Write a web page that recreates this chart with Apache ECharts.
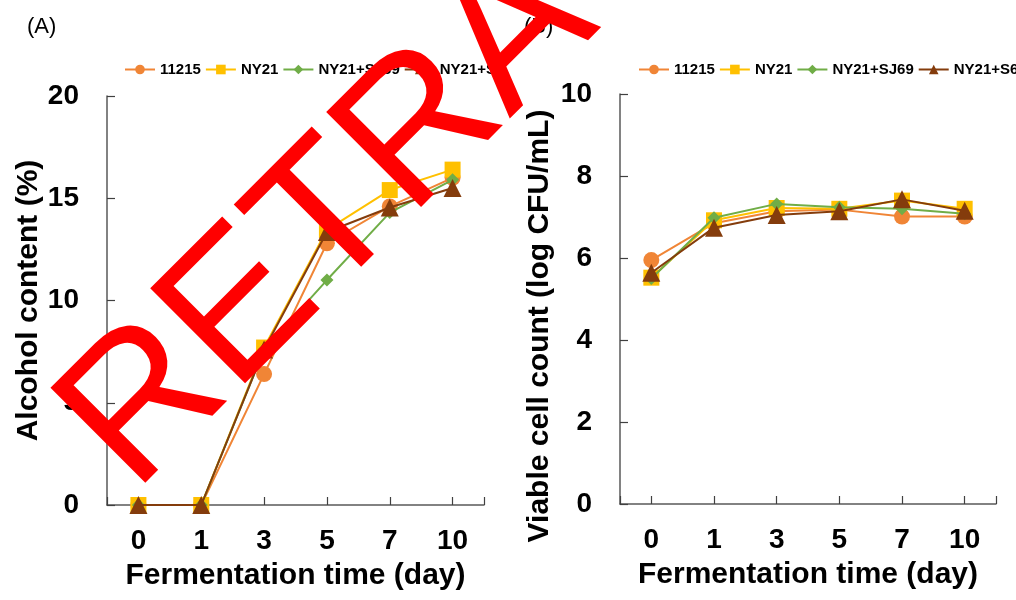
<!DOCTYPE html>
<html><head><meta charset="utf-8">
<script src="https://cdn.jsdelivr.net/npm/echarts@6/dist/echarts.min.js"></script>
<style>html,body{margin:0;padding:0;background:#fff}#c{width:1016px;height:600px}</style>
</head><body><div id="c"></div>
<script>
const days = ['0', '1', '3', '5', '7', '10'];
const seriesNames = ['11215', 'NY21', 'NY21+SJ69', 'NY21+S6'];
const alcohol11215 = [0, 0, 6.4, 12.8, 14.6, 16.0];
const alcoholNY21 = [0, 0, 7.7, 13.45, 15.4, 16.4];
const alcoholSJ69 = [0, 0, 7.6, 11.0, 14.3, 15.9];
const alcoholS6 = [0, 0, 7.6, 13.35, 14.55, 15.5];
const viable11215 = [5.95, 6.85, 7.14, 7.18, 7.01, 7.01];
const viableNY21 = [5.52, 6.92, 7.22, 7.2, 7.4, 7.2];
const viableSJ69 = [5.5, 6.98, 7.32, 7.24, 7.2, 7.08];
const viableS6 = [5.64, 6.74, 7.05, 7.14, 7.43, 7.15];
const alcoholTicks = [0, 20, 5];
const viableTicks = [0, 10, 2];

const colors = ['#F08536', '#FFC000', '#70AD47', '#843C0C'];
const symbols = ['circle', 'rect', 'diamond', 'triangle'];
const sizes = [16, 16, 13, 18];
const FONT = '"Liberation Sans", Arial, sans-serif';

function mk(name, idx, data, g) {
  return {
    name: name, type: 'line', xAxisIndex: g, yAxisIndex: g, data: data,
    symbol: symbols[idx], symbolSize: sizes[idx], showSymbol: true,
    lineStyle: { color: colors[idx], width: 2 },
    itemStyle: { color: colors[idx] },
    emphasis: { disabled: true }, animation: false, z: 2 + idx
  };
}
const axisLine = { show: true, lineStyle: { color: '#595959', width: 1.5 } };
const tickStyle = { show: true, inside: true, length: 8, lineStyle: { color: '#404040', width: 1.2 } };
const tickLabel = { color: '#000', fontFamily: FONT, fontWeight: 'bold', fontSize: 28 };
const nameStyle = { color: '#000', fontFamily: FONT, fontWeight: 'bold', fontSize: 30 };

function xAx(g) {
  return {
    type: 'category', gridIndex: g, data: days, boundaryGap: true, position: 'bottom',
    axisLine: axisLine, axisTick: Object.assign({ alignWithLabel: true }, tickStyle),
    axisLabel: Object.assign({ margin: 22 }, tickLabel),
    name: 'Fermentation time (day)', nameLocation: 'middle', nameGap: 56, nameTextStyle: nameStyle
  };
}
// companion axis that only draws the tick at the right end of the x axis
function xEnd(g) {
  return {
    type: 'category', gridIndex: g, data: days, boundaryGap: true, position: 'bottom',
    axisLine: { show: false }, axisLabel: { show: false }, splitLine: { show: false },
    axisTick: Object.assign({ alignWithLabel: false, interval: function (i) { return i === days.length - 1; } }, tickStyle)
  };
}
function yAx(g, t, name, gap, pad) {
  return {
    type: 'value', gridIndex: g, min: t[0], max: t[1], interval: t[2],
    axisLine: axisLine, axisTick: tickStyle, splitLine: { show: false },
    axisLabel: Object.assign({ margin: 28 }, tickLabel),
    name: name, nameLocation: 'middle', nameGap: gap, nameRotate: 90,
    nameTextStyle: Object.assign({ padding: pad }, nameStyle)
  };
}
function legend(left) {
  return {
    left: left, top: 57, width: 420, itemWidth: 30, itemHeight: 12, itemGap: 4,
    data: seriesNames, selectedMode: false,
    textStyle: { color: '#000', fontFamily: FONT, fontWeight: 'bold', fontSize: 15 }
  };
}

const chart = echarts.init(document.getElementById('c'), null, { renderer: 'canvas' });
chart.setOption({
  animation: false,
  color: colors,
  grid: [
    { left: 107, right: 532, top: 96, bottom: 95 },
    { left: 620, right: 20, top: 94, bottom: 96 }
  ],
  legend: [legend(119), legend(633)],
  xAxis: [xAx(0), xAx(1), xEnd(0), xEnd(1)],
  yAxis: [
    yAx(0, alcoholTicks, 'Alcohol content (%)', 62, [0, 0, 0, 0]),
    yAx(1, viableTicks, 'Viable cell count (log CFU/mL)', 65, [0, 54, 0, 0])
  ],
  series: [
    mk(seriesNames[0], 0, alcohol11215, 0), mk(seriesNames[1], 1, alcoholNY21, 0),
    mk(seriesNames[2], 2, alcoholSJ69, 0), mk(seriesNames[3], 3, alcoholS6, 0),
    mk(seriesNames[0], 0, viable11215, 1), mk(seriesNames[1], 1, viableNY21, 1),
    mk(seriesNames[2], 2, viableSJ69, 1), mk(seriesNames[3], 3, viableS6, 1)
  ],
  graphic: [
    { type: 'text', left: 27, top: 16, style: { text: '(A)', font: '22px ' + FONT, fill: '#000' } },
    { type: 'text', left: 524, top: 16, style: { text: '(B)', font: '22px ' + FONT, fill: '#000' } },
    { type: 'text', x: 165, y: 525, rotation: Math.PI / 4, z: 100,
      style: { text: 'RETRACTED', font: '195px ' + FONT, fill: '#FF0000', align: 'left', verticalAlign: 'bottom' } }
  ]
});
</script></body></html>
